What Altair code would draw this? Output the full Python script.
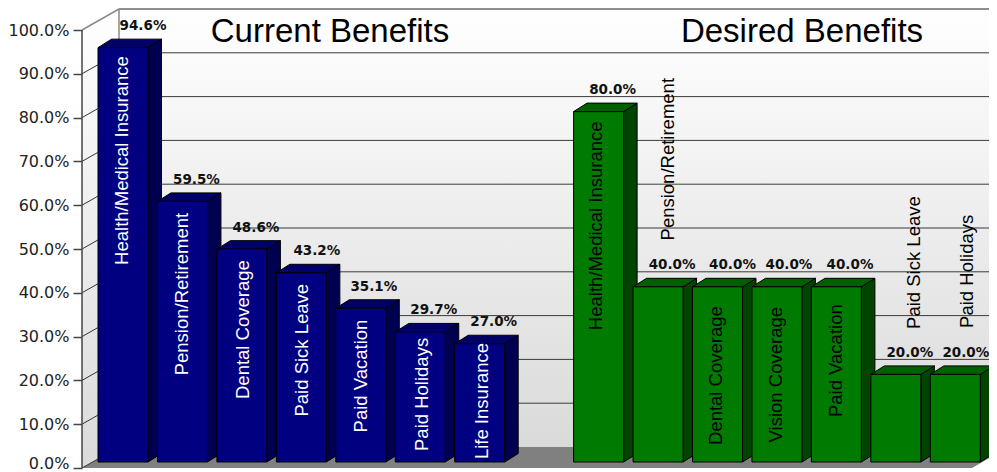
import altair as alt
import pandas as pd

# ---- values
current_names = ["Health/Medical Insurance", "Pension/Retirement", "Dental Coverage", "Paid Sick Leave",
                 "Paid Vacation", "Paid Holidays", "Life Insurance"]
current_values = [94.6, 59.5, 48.6, 43.2, 35.1, 29.7, 27.0]
desired_names = ["Health/Medical Insurance", "Pension/Retirement", "Dental Coverage", "Vision Coverage",
                 "Paid Vacation", "Paid Sick Leave", "Paid Holidays"]
desired_values = [80.0, 40.0, 40.0, 40.0, 40.0, 20.0, 20.0]
axis_ticks = [0, 10, 20, 30, 40, 50, 60, 70, 80, 90, 100]
titles = ["Current Benefits", "Desired Benefits"]

# ---- layout of the pseudo-3D box, in axis units
PX_X, PX_Y = 59.45, 4.38            # pixels per slot / per percent
W, H = 907, 460
X0 = -16 / PX_X                     # slot of the front axis line
XMAX = X0 + W / PX_X
YMAX = H / PX_Y
WALL_DX, WALL_DY = 37 / PX_X, 21 / PX_Y
BAR_DX, BAR_DY = 13.5 / PX_X, 8.5 / PX_Y
LIFT = 6 / PX_Y
BAR_W = 50 / PX_X
FLOOR_END = X0 + 890 / PX_X
TITLE_SLOTS = [(330 - 98) / PX_X, (802 - 98) / PX_X]
TITLE_Y = (468 - 42) / PX_Y
current_label_mid = [70.2, 39.7, 31.6, 26.9, 21.0, 16.8, 15.3]
desired_label_mid = [55.3, 70.5, 21.1, 21.3, 24.5, 46.9, 44.9]
current_label_shift = [-1, 0, 1, 0.5, 0, 1.5, 2]
desired_label_shift = [-2.6, 10, -1.5, -1, 0, 18, 11.7]
current_value_shift = [20, 14, 14, 15.5, 13, 13.5, 14]
desired_value_shift = [14, 14, 15, 12, 13.6, 14, 10.5]

x_scale = alt.Scale(domain=[X0, XMAX], nice=False, zero=False)
y_scale = alt.Scale(domain=[0, YMAX], nice=False, zero=False)
y_axis = alt.Axis(values=axis_ticks, format=".1f", labelExpr="datum.label + '%'", title=None, domain=False,
                  grid=False, tickSize=9, tickColor="#444444", tickWidth=1.5, labelPadding=4,
                  labelFont="DejaVu Sans", labelFontSize=16, labelColor="#222222", labelOverlap=False,
                  labelBound=False,
                  labelOffset={"condition": {"test": "datum.value === 0", "value": -5}, "value": 0})
X = lambda f: alt.X(f, type="quantitative", scale=x_scale, axis=None)
Y = lambda f: alt.Y(f, type="quantitative", scale=y_scale, axis=y_axis)

rows, side, top = [], [], []
groups = [("current", current_names, current_values, 0, current_label_mid, current_label_shift, current_value_shift),
          ("desired", desired_names, desired_values, 8, desired_label_mid, desired_label_shift, desired_value_shift)]
for g, names, vals, start, mids, shifts, vshifts in groups:
    for i, (n, v) in enumerate(zip(names, vals)):
        left = start + i
        right = left + BAR_W
        base, tp = LIFT, v + LIFT
        bid = f"{g}{i}"
        rows.append(dict(group=g, bar=bid, name=n, label=f"{v:.1f}%", left=left, right=right, base=base, top=tp,
                         mid=mids[i],
                         cx=left + BAR_W / 2 + vshifts[i] / PX_X,
                         tx=left + BAR_W / 2 + shifts[i] / PX_X,
                         ly=tp + 17.5 / PX_Y))
        side += [dict(group=g, bar=bid, x=right, y=base, y2=tp),
                 dict(group=g, bar=bid, x=right + BAR_DX, y=base + BAR_DY, y2=tp + BAR_DY)]
        top += [dict(group=g, bar=bid, y=tp, x=left, x2=right),
                dict(group=g, bar=bid, y=tp + BAR_DY, x=left + BAR_DX, x2=right + BAR_DX)]
bars = pd.DataFrame(rows)
side = pd.DataFrame(side)
top = pd.DataFrame(top)
cur_bars = bars[bars.group == "current"]
des_bars = bars[bars.group == "desired"]

def gcol(front, back):
    return alt.Color("group:N", scale=alt.Scale(domain=["current", "desired"], range=[front, back]), legend=None)

wall_grad = alt.LinearGradient(gradient="linear", x1=0, y1=0, x2=0, y2=1,
                               stops=[alt.GradientStop(color="#ffffff", offset=0),
                                      alt.GradientStop(color="#dadada", offset=1)])

back_wall = alt.Chart(pd.DataFrame([dict(x=X0 + WALL_DX, x2=XMAX, y=WALL_DY, y2=100 + WALL_DY)])).mark_rect(
    color=wall_grad).encode(x=X("x"), x2="x2", y=Y("y"), y2="y2")

left_wall_df = pd.DataFrame([dict(x=X0, y=0, y2=100), dict(x=X0 + WALL_DX, y=WALL_DY, y2=100 + WALL_DY)])
left_wall = alt.Chart(left_wall_df).mark_area(color=wall_grad, orient="vertical").encode(x=X("x"), y=Y("y"), y2="y2")

floor_df = pd.DataFrame([dict(y=0, x=X0, x2=FLOOR_END), dict(y=WALL_DY, x=X0 + WALL_DX, x2=FLOOR_END + WALL_DX)])
floor = alt.Chart(floor_df).mark_area(color="#808080", orient="horizontal", clip=True).encode(
    y=Y("y"), x=X("x"), x2="x2")

ticks = pd.DataFrame({"t": axis_ticks})
ticks["x0"] = X0
ticks["x1"] = X0 + WALL_DX
ticks["x2"] = XMAX
ticks["wy"] = ticks.t + WALL_DY
ticks["zero"] = 0.0
ticks["wzero"] = WALL_DY

grid_back = alt.Chart(ticks[ticks.t > 0]).mark_rule(color="#3a3a3a", strokeWidth=1).encode(
    x=X("x1"), x2="x2", y=Y("wy"))
top_edge = alt.Chart(ticks[ticks.t == 100]).mark_rule(color="#8a8a8a", strokeWidth=1.5).encode(
    x=X("x1"), x2="x2", y=Y("wy"))

diag = pd.concat([pd.DataFrame({"t": ticks.t, "x": ticks.x0, "y": ticks.t}),
                  pd.DataFrame({"t": ticks.t, "x": ticks.x1, "y": ticks.wy})])
grid_left = alt.Chart(diag[diag.t < 100]).mark_line(color="#333333", strokeWidth=1).encode(
    x=X("x"), y=Y("y"), detail="t:N")
edge_top = alt.Chart(diag[diag.t == 100]).mark_line(color="#8a8a8a", strokeWidth=1.5).encode(x=X("x"), y=Y("y"))

back_v = alt.Chart(ticks[ticks.t == 100]).mark_rule(color="#8a8a8a", strokeWidth=1.5).encode(
    x=X("x1"), y=Y("wy"), y2="wzero")
axis_line = alt.Chart(ticks[ticks.t == 100]).mark_rule(color="#444444", strokeWidth=1.5).encode(
    x=X("x0"), y=Y("t"), y2="zero")

front = alt.Chart(bars).mark_rect(stroke="black", strokeWidth=1).encode(
    x=X("left"), x2="right", y=Y("base"), y2="top", color=gcol("#000080", "#007a00"))
side_m = alt.Chart(side).mark_area(stroke="black", strokeWidth=1, orient="vertical").encode(
    x=X("x"), y=Y("y"), y2="y2", detail="bar:N", color=gcol("#000050", "#004400"))
top_m = alt.Chart(top).mark_area(stroke="black", strokeWidth=1, orient="horizontal").encode(
    y=Y("y"), x=X("x"), x2="x2", detail="bar:N", color=gcol("#000068", "#006000"))

inner_font = dict(font="Liberation Sans", fontSize=18.5, angle=270, align="center", baseline="middle")
inner_c = alt.Chart(cur_bars).mark_text(color="white", **inner_font).encode(x=X("tx"), y=Y("mid"), text="name:N")
inner_d = alt.Chart(des_bars).mark_text(color="black", **inner_font).encode(x=X("tx"), y=Y("mid"), text="name:N")

val_lab = alt.Chart(bars).mark_text(font="DejaVu Sans", fontWeight="bold", fontSize=13.5, color="#111111",
                                    align="center", baseline="alphabetic").encode(
    x=X("cx"), y=Y("ly"), text="label:N")

title_df = pd.DataFrame({"t": titles, "x": TITLE_SLOTS, "y": [TITLE_Y, TITLE_Y]})
title_m = alt.Chart(title_df).mark_text(font="Liberation Sans", fontSize=33, color="black", baseline="alphabetic").encode(
    x=X("x"), y=Y("y"), text="t:N")

chart = alt.layer(
    back_wall, left_wall, floor, grid_back, top_edge, back_v, grid_left, edge_top, axis_line,
    side_m, top_m, front, val_lab, title_m, inner_c, inner_d,
).resolve_scale(color="independent").properties(
    width=W, height=H,
    autosize=alt.AutoSizeParams(type="none"),
    padding={"left": 74, "top": 0, "right": 0, "bottom": 4},
    background="white",
).configure_view(stroke=None)

chart.save("out.html", embed_options={"renderer": "svg", "actions": False})
